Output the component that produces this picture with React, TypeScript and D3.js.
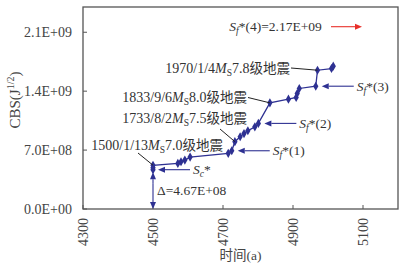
import React from "react";
import * as d3 from "d3";

// ---- data ----
const years = [4500, 4500, 4500, 4571, 4580, 4591, 4606, 4715, 4725, 4734, 4749, 4760, 4771, 4791, 4801, 4834, 4887, 4909, 4912, 4918, 4965, 4970, 5010, 5015];
const cbs = [4.67e8, 4.9e8, 5.2e8, 5.42e8, 5.61e8, 5.81e8, 6.17e8, 6.61e8, 6.92e8, 8.0e8, 8.58e8, 8.96e8, 9.29e8, 9.76e8, 1.017e9, 1.261e9, 1.305e9, 1.325e9, 1.373e9, 1.432e9, 1.459e9, 1.649e9, 1.669e9, 1.697e9];
const xTicks = [4300, 4500, 4700, 4900, 5100];
const yTicks = [0, 7e8, 1.4e9, 2.1e9];
const yTickLabels = ["0.0E+00", "7.0E+08", "1.4E+09", "2.1E+09"];
const quakeLabels = ["1500/1/13", "1733/8/2", "1833/9/6", "1970/1/4"];
const quakeMags = ["7.0", "7.5", "8.0", "7.8"];
const quakeIdx = [2, 9, 15, 21];
const sfIdx = [8, 14, 20];
const sfNames = ["(1)", "(2)", "(3)"];
const deltaValue = 4.67e8;
const deltaLabel = "Δ=4.67E+08";
const sf4Label = "(4)=2.17E+09";

const W = 406, H = 270;
const L = 83, T = 7, R = 398, B = 209;
const navy = "#2e3192";
const serif = "'Liberation Serif', 'Times New Roman', 'Noto Sans CJK SC', serif";
const cjk = "'Noto Sans CJK SC', sans-serif";

function Arrow({ x1, y1, x2, y2, color, head = 7, half = 3 }: any) {
  const a = Math.atan2(y2 - y1, x2 - x1);
  const bx = x2 - head * Math.cos(a), by = y2 - head * Math.sin(a);
  const px = -Math.sin(a) * half, py = Math.cos(a) * half;
  return (
    <g>
      <line x1={x1} y1={y1} x2={bx} y2={by} stroke={color} strokeWidth={1.1} />
      <path d={`M${x2},${y2}L${bx + px},${by + py}L${bx - px},${by - py}Z`} fill={color} />
    </g>
  );
}

function SfText({ x, y, suffix }: any) {
  return (
    <text x={x} y={y} fontFamily={serif} fontSize={13.5} fill="#333">
      <tspan fontStyle="italic">S</tspan>
      <tspan fontStyle="italic" fontSize={9.5} dy={3}>f</tspan>
      <tspan dy={-3}>*{suffix}</tspan>
    </text>
  );
}

export default function App() {
  const x = d3.scaleLinear().domain([4300, 5200]).range([L, R]);
  const y = d3.scaleLinear().domain([0, 2.4e9]).range([B, T]);
  const pts: [number, number][] = years.map((yr, i) => [x(yr), y(cbs[i])]);
  const line = d3.line()(pts) || "";
  const diamond = d3.symbol().type(d3.symbolDiamond).size(24)() || "";

  const q = quakeIdx.map((i) => pts[i]);

  return (
    <svg width={W} height={H} style={{ position: "absolute", left: 0, top: 0, background: "#fff" }}>
      <rect x={0} y={0} width={W} height={H} fill="#fff" />
      {/* frame */}
      <rect x={L} y={T} width={R - L} height={B - T} fill="none" stroke="#555" strokeWidth={1.3} />
      {/* y ticks */}
      {yTicks.map((v, i) => (
        <g key={"y" + i}>
          <line x1={L} x2={L + 4} y1={y(v)} y2={y(v)} stroke="#555" strokeWidth={1} />
          <text x={L - 11} y={y(v)} dy="0.35em" textAnchor="end" fontFamily={serif} fontSize={14} fill="#444">
            {yTickLabels[i]}
          </text>
        </g>
      ))}
      {/* x ticks */}
      {xTicks.map((v, i) => (
        <g key={"x" + i}>
          <line x1={x(v)} x2={x(v)} y1={B} y2={B - 4} stroke="#555" strokeWidth={1} />
          <text transform={`translate(${x(v)},${B + 9}) rotate(-90)`} dy="0.35em" textAnchor="end" fontFamily={serif} fontSize={14} fill="#444">
            {v}
          </text>
        </g>
      ))}
      {/* axis titles */}
      <text x={(L + R) / 2} y={260} textAnchor="middle" fontSize={13.5} fill="#444">
        <tspan fontFamily={cjk}>时间</tspan>
        <tspan fontFamily={serif}>(a)</tspan>
      </text>
      <text transform={`translate(20,100) rotate(-90)`} textAnchor="middle" fontFamily={serif} fontSize={15} fill="#444">
        CBS(J<tspan fontSize={10} dy={-6}>1/2</tspan>
        <tspan dy={6}>)</tspan>
      </text>

      {/* data line */}
      <path d={line} fill="none" stroke={navy} strokeWidth={1.3} />
      {pts.map((p, i) => (
        <path key={"p" + i} d={diamond} transform={`translate(${p[0]},${p[1]})`} fill={navy} />
      ))}

      {/* quake annotations */}
      {[
        { tx: 223, ty: 149.5, lx1: 138, ly1: 153 },
        { tx: 247, ty: 123, lx1: 220, ly1: 129 },
        { tx: 247, ty: 102, lx1: 248, ly1: 97.5 },
        { tx: 290, ty: 73, lx1: 291, ly1: 68 },
      ].map((a, i) => (
        <g key={"q" + i}>
          <line x1={a.lx1} y1={a.ly1} x2={q[i][0]} y2={q[i][1]} stroke="#222" strokeWidth={1} />
          <text x={a.tx} y={a.ty} textAnchor="end" fontFamily={serif} fontSize={14} fill="#333">
            {quakeLabels[i]}
            <tspan fontStyle="italic">M</tspan>
            <tspan fontSize={9.5} dy={3}>S</tspan>
            <tspan dy={-3}>{quakeMags[i]}</tspan>
            <tspan fontFamily={cjk} fontSize={13.5}>级地震</tspan>
          </text>
        </g>
      ))}

      {/* Sf arrows */}
      {sfIdx.map((idx, i) => {
        const tipX = pts[idx][0] + 6;
        const yy = pts[idx][1];
        return (
          <g key={"sf" + i}>
            <Arrow x1={tipX + 32} y1={yy} x2={tipX} y2={yy} color={navy} />
            <SfText x={tipX + 35} y={yy + 4.5} suffix={sfNames[i]} />
          </g>
        );
      })}

      {/* Sc* */}
      <Arrow x1={190} y1={pts[0][1]} x2={pts[0][0] + 5} y2={pts[0][1]} color={navy} />
      <text x={193} y={pts[0][1] + 4.5} fontFamily={serif} fontSize={13.5} fill="#333">
        <tspan fontStyle="italic">S</tspan>
        <tspan fontStyle="italic" fontSize={9.5} dy={3}>c</tspan>
        <tspan dy={-3}>*</tspan>
      </text>

      {/* Delta */}
      <Arrow x1={x(4500)} y1={y(0) - 12} x2={x(4500)} y2={y(0)} color={navy} />
      <Arrow x1={x(4500)} y1={y(deltaValue) + 14} x2={x(4500)} y2={y(deltaValue) + 2.5} color={navy} />
      <line x1={x(4500)} x2={x(4500)} y1={y(0) - 12} y2={y(deltaValue) + 14} stroke={navy} strokeWidth={1.1} />
      <text x={157} y={195} fontFamily={serif} fontSize={13.5} fill="#333">{deltaLabel}</text>

      {/* Sf*(4) */}
      <text x={229.3} y={31} fontFamily={serif} fontSize={13.5} fill="#333">
        <tspan fontStyle="italic">S</tspan>
        <tspan fontStyle="italic" fontSize={9.5} dy={3}>f</tspan>
        <tspan dy={-3}>*{sf4Label}</tspan>
      </text>
      <Arrow x1={331} y1={26.7} x2={362} y2={26.7} color="#e8302a" />
    </svg>
  );
}
